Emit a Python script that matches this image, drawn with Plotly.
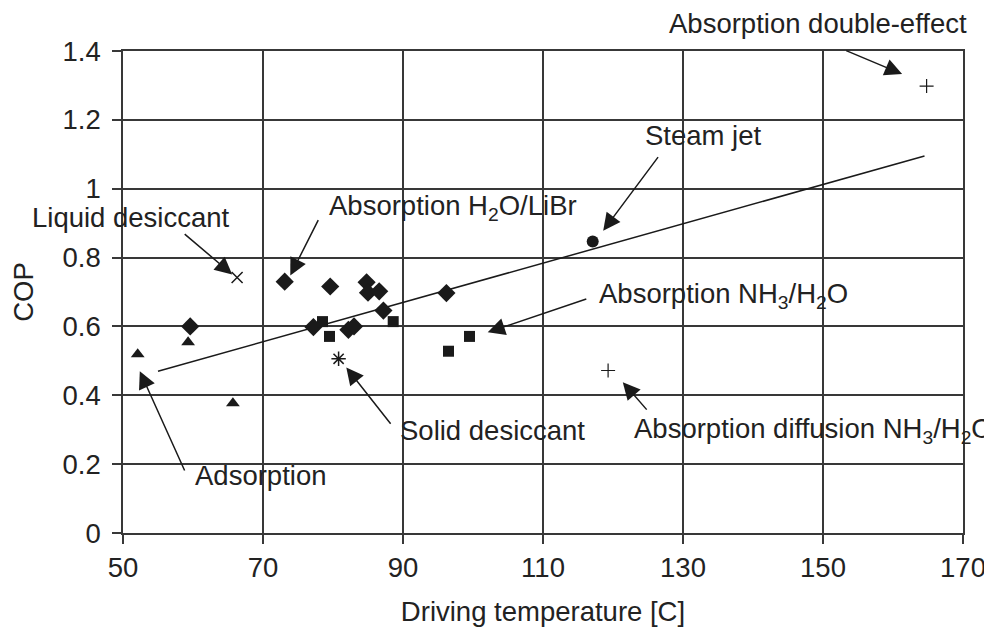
import plotly.graph_objects as go

# ---- data ----
adsorption_x = [52.1, 59.3, 65.7]
adsorption_y = [0.519, 0.554, 0.377]

libr_x = [59.6, 73.1, 79.6, 84.8, 85.0, 86.6, 87.2, 77.2, 82.2, 83.0, 96.2]
libr_y = [0.600, 0.730, 0.716, 0.728, 0.698, 0.702, 0.646, 0.598, 0.590, 0.600, 0.697]

nh3_x = [78.5, 79.5, 88.6, 96.5, 99.5]
nh3_y = [0.614, 0.571, 0.614, 0.528, 0.571]

steam_x = [117.1]
steam_y = [0.847]

liquid_x = [66.3]
liquid_y = [0.742]

solid_x = [80.8]
solid_y = [0.506]

diffusion_x = [119.3]
diffusion_y = [0.472]

double_x = [164.8]
double_y = [1.298]

trend_x = [55.0, 164.5]
trend_y = [0.470, 1.095]

x_ticks = [50, 70, 90, 110, 130, 150, 170]
y_ticks = [0, 0.2, 0.4, 0.6, 0.8, 1.0, 1.2, 1.4]
y_tick_labels = ["0", "0.2", "0.4", "0.6", "0.8", "1", "1.2", "1.4"]

X_RANGE = [50, 170]
Y_RANGE = [0, 1.4]

# label text, text anchor (x, y) in data units, anchor, arrow tail (x, y), arrow tip (x, y)
labels = [
    ("Liquid desiccant", 51.1, 0.916, "center", 58.6, 0.872, 65.6, 0.751),
    ("Absorption H<sub>2</sub>O/LiBr", 79.1, 0.945, "left", 78.0, 0.913, 73.9, 0.748),
    ("Solid desiccant", 89.3, 0.299, "left", 88.4, 0.313, 81.9, 0.481),
    ("Adsorption", 60.0, 0.168, "left", 58.9, 0.177, 52.4, 0.470),
    ("Absorption NH<sub>3</sub>/H<sub>2</sub>O", 117.7, 0.690, "left", 116.4, 0.681, 102.1, 0.583),
    ("Steam jet", 124.3, 1.154, "left", 126.6, 1.096, 118.6, 0.878),
    ("Absorption double-effect", 127.7, 1.481, "left", 153.1, 1.403, 161.3, 1.333),
    ("Absorption diffusion NH<sub>3</sub>/H<sub>2</sub>O", 122.7, 0.299, "left", 125.0, 0.354, 121.4, 0.438),
]

INK = "#1a1a1a"
GRID = "#383838"
FONT = "Liberation Sans, Arial, sans-serif"
FS = 27.5

fig = go.Figure()

fig.add_trace(go.Scatter(x=trend_x, y=trend_y, mode="lines",
                         line=dict(color=INK, width=1.5), showlegend=False))

def pts(x, y, symbol, size, lw=0):
    fig.add_trace(go.Scatter(
        x=x, y=y, mode="markers", showlegend=False, cliponaxis=False,
        marker=dict(symbol=symbol, size=size, color=INK,
                    line=dict(color=INK, width=lw))))

pts(adsorption_x, adsorption_y, "triangle-up", 12)
pts(libr_x, libr_y, "diamond", 14)
pts(nh3_x, nh3_y, "square", 11)
pts(steam_x, steam_y, "circle", 12)
pts(liquid_x, liquid_y, "x-thin-open", 11, 1.5)
pts(solid_x, solid_y, "asterisk-open", 12, 1.5)
pts(diffusion_x, diffusion_y, "cross-thin-open", 10, 1.2)
pts(double_x, double_y, "cross-thin-open", 10, 1.2)

def to_paper_x(v):
    return (v - X_RANGE[0]) / (X_RANGE[1] - X_RANGE[0])

def to_paper_y(v):
    return (v - Y_RANGE[0]) / (Y_RANGE[1] - Y_RANGE[0])

annotations = []
for text, tx, ty, anchor, ax, ay, hx, hy in labels:
    annotations.append(dict(
        x=to_paper_x(tx), y=to_paper_y(ty), xref="paper", yref="paper",
        text=text, showarrow=False, xanchor=anchor, yanchor="middle",
        font=dict(family=FONT, size=FS, color="#222222")))
    annotations.append(dict(
        x=hx, y=hy, ax=ax, ay=ay, xref="x", yref="y", axref="x", ayref="y",
        text="", showarrow=True, arrowhead=2, arrowsize=2.3, arrowwidth=1.5,
        arrowcolor=INK, standoff=0))

# page body has an 8px margin: plot area sits at 123..963 x 51..533 in the window
fig.update_layout(
    width=992, height=630,
    margin=dict(l=115, r=37, t=43, b=105),
    paper_bgcolor="white", plot_bgcolor="white",
    font=dict(family=FONT, size=FS, color="#222222"),
    annotations=annotations,
    xaxis=dict(
        range=X_RANGE, tickvals=x_ticks, ticktext=[str(v) for v in x_ticks],
        showgrid=True, gridcolor=GRID, gridwidth=1.5,
        showline=True, linecolor=GRID, linewidth=1.5, mirror=True,
        ticks="outside", ticklen=9, tickcolor=GRID, tickwidth=1.5,
        zeroline=False,
        title=dict(text="Driving temperature [C]", standoff=20,
                   font=dict(size=FS)),
        tickfont=dict(size=FS)),
    yaxis=dict(
        range=Y_RANGE, tickvals=y_ticks, ticktext=y_tick_labels,
        showgrid=True, gridcolor=GRID, gridwidth=1.5,
        showline=True, linecolor=GRID, linewidth=1.5, mirror=True,
        ticks="outside", ticklen=9, tickcolor=GRID, tickwidth=1.5,
        zeroline=False, ticklabelstandoff=6,
        title=dict(text="COP", standoff=22, font=dict(size=FS)),
        tickfont=dict(size=FS)),
)

fig.write_html("out.html")
